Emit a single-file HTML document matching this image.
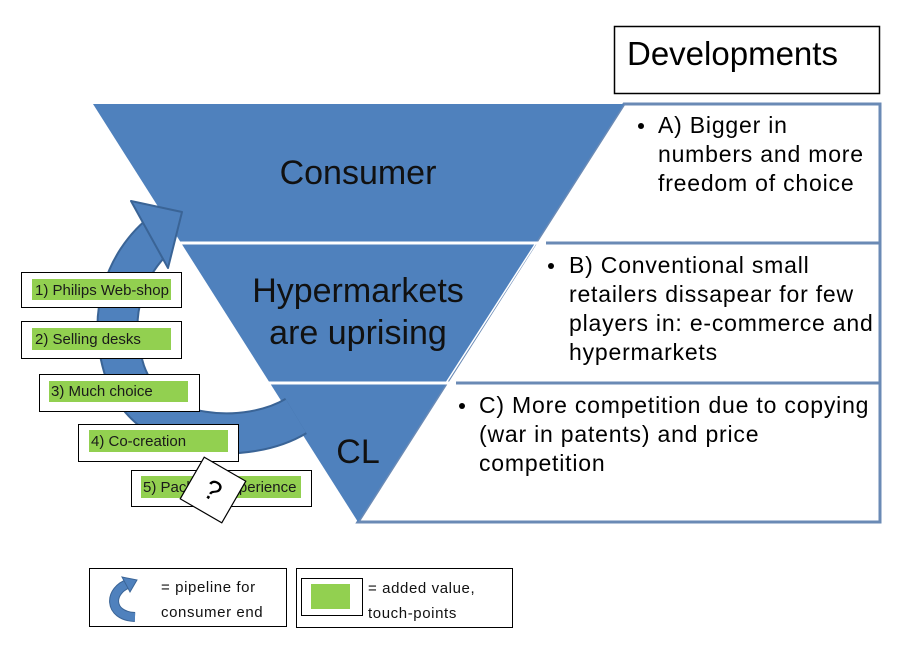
<!DOCTYPE html>
<html><head><meta charset="utf-8"><style>
html,body{margin:0;padding:0;background:#fff;}
svg{display:block;}
text{font-family:"Liberation Sans",sans-serif;}
</style></head><body>
<svg width="900" height="647" viewBox="0 0 900 647" xmlns="http://www.w3.org/2000/svg">
<rect width="900" height="647" fill="#fff"/>
<!-- Developments box -->
<rect x="614.5" y="26.5" width="265" height="67" fill="#fff" stroke="#000" stroke-width="1.5"/>
<text x="627" y="65" font-size="33" fill="#000">Developments</text>
<!-- right boxes -->
<polygon points="624,104 880,104 880,522 358,522" fill="#fff" stroke="#6a8ab5" stroke-width="3"/>
<line x1="536" y1="243" x2="880" y2="243" stroke="#6a8ab5" stroke-width="3"/>
<line x1="446" y1="383" x2="880" y2="383" stroke="#6a8ab5" stroke-width="3"/>
<!-- triangle -->
<polygon points="93,104 624,104 358,522" fill="#4f81bd"/>
<line x1="170" y1="243" x2="546" y2="243" stroke="#fff" stroke-width="3"/>
<line x1="262" y1="383" x2="456" y2="383" stroke="#fff" stroke-width="3"/>
<line x1="536" y1="243" x2="446" y2="383" stroke="#fff" stroke-width="1.5"/>
<text x="358" y="184" font-size="34" fill="#111" text-anchor="middle">Consumer</text>
<text x="358" y="302" font-size="34" fill="#111" text-anchor="middle">Hypermarkets</text>
<text x="358" y="344" font-size="34" fill="#111" text-anchor="middle">are uprising</text>
<text x="358" y="463" font-size="34" fill="#111" text-anchor="middle">CL</text>
<!-- right texts -->
<g font-size="23" fill="#000" letter-spacing="0.8">
<circle cx="641" cy="126" r="3"/>
<text x="658" y="133">A) Bigger in</text>
<text x="658" y="162">numbers and more</text>
<text x="658" y="191">freedom of choice</text>
<circle cx="551" cy="266" r="3"/>
<text x="569" y="273">B) Conventional small</text>
<text x="569" y="302">retailers dissapear for few</text>
<text x="569" y="331">players in: e-commerce and</text>
<text x="569" y="360">hypermarkets</text>
<circle cx="462" cy="406" r="3"/>
<text x="479" y="413">C) More competition due to copying</text>
<text x="479" y="442">(war in patents) and price</text>
<text x="479" y="471">competition</text>
</g>
<!-- arrow -->
<path d="M296,416 C250,444 150,444 125,372 C105,312 128,262 158,236" fill="none" stroke="#3a6496" stroke-width="42"/>
<path d="M296,416 C250,444 150,444 125,372 C105,312 128,262 158,236" fill="none" stroke="#4f81bd" stroke-width="38"/>
<polygon points="131,201 182,212 168,268" fill="#4f81bd" stroke="#3a6496" stroke-width="2" stroke-linejoin="round"/>
<!-- labels -->
<g font-size="15" fill="#1a1a1a">
<rect x="21.5" y="272.5" width="160" height="35" fill="#fff" stroke="#000"/>
<rect x="32" y="279" width="139" height="21" fill="#92d050"/>
<text x="35" y="295">1) Philips Web-shop</text>
<rect x="21.5" y="321.5" width="160" height="37" fill="#fff" stroke="#000"/>
<rect x="32" y="328" width="139" height="22" fill="#92d050"/>
<text x="35" y="344">2) Selling desks</text>
<rect x="39.5" y="374.5" width="160" height="37" fill="#fff" stroke="#000"/>
<rect x="49" y="381" width="139" height="21" fill="#92d050"/>
<text x="51" y="396">3) Much choice</text>
<rect x="78.5" y="424.5" width="160" height="37" fill="#fff" stroke="#000"/>
<rect x="89" y="430" width="139" height="22" fill="#92d050"/>
<text x="91" y="446">4) Co-creation</text>
<rect x="131.5" y="470.5" width="180" height="36" fill="#fff" stroke="#000"/>
<rect x="141" y="476" width="160" height="22" fill="#92d050"/>
<text x="143" y="492">5) Package experience</text>
</g>
<g transform="translate(213,490) rotate(30)">
<rect x="-24" y="-24" width="48" height="48" fill="#fff" stroke="#000" stroke-width="1.2"/>
<text x="0" y="10" font-size="28" text-anchor="middle" fill="#000">?</text>
</g>
<!-- legend -->
<rect x="89.5" y="568.5" width="197" height="58" fill="#fff" stroke="#000"/>
<path d="M130,583 C108,590 108,616 135,617" fill="none" stroke="#3a6496" stroke-width="10"/>
<path d="M130,583 C108,590 108,616 135,617" fill="none" stroke="#4f81bd" stroke-width="8"/>
<polygon points="122,577 137,580 130,592" fill="#4f81bd" stroke="#3a6496"/>
<g font-size="15" fill="#111" letter-spacing="0.6">
<text x="161" y="592">= pipeline  for</text>
<text x="161" y="617">consumer end</text>
<text x="368" y="593">= added value,</text>
<text x="368" y="618">touch-points</text>
</g>
<rect x="296.5" y="568.5" width="216" height="59" fill="none" stroke="#000"/>
<rect x="301.5" y="578.5" width="61" height="37" fill="#fff" stroke="#000"/>
<rect x="311" y="584" width="39" height="25" fill="#92d050"/>
</svg>
</body></html>
